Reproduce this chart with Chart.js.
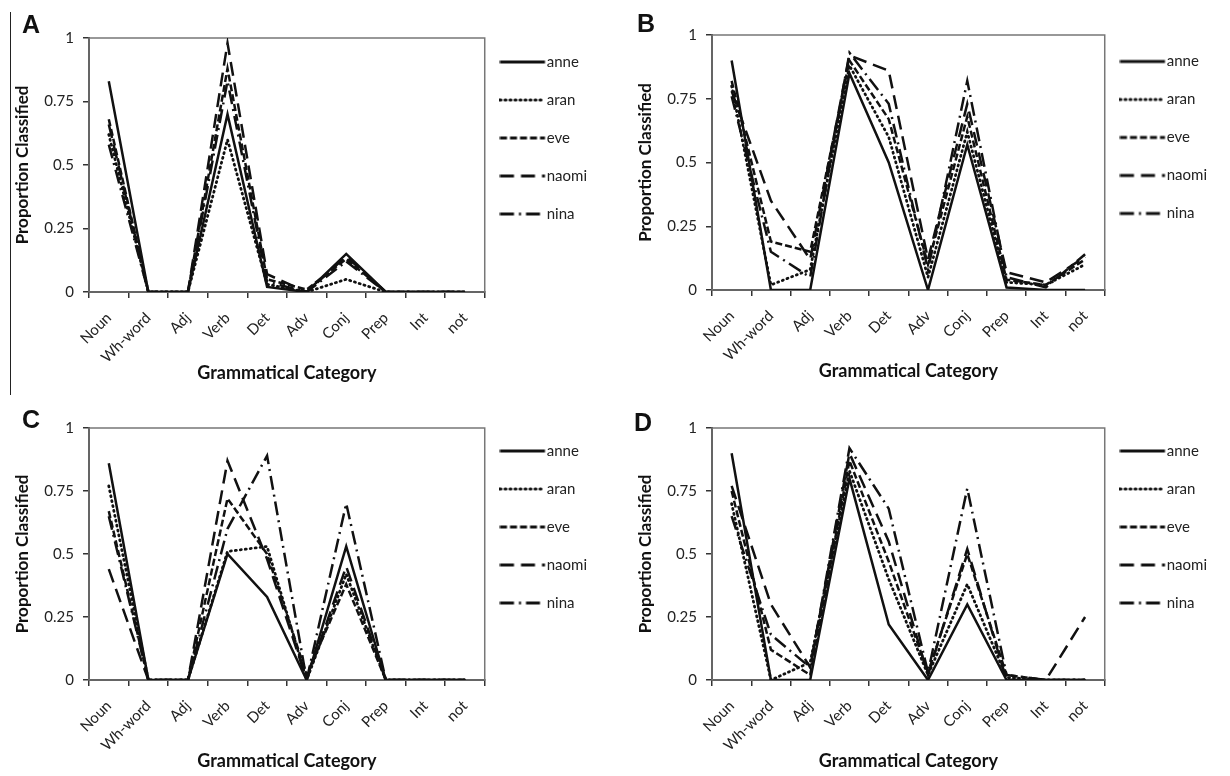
<!DOCTYPE html>
<html>
<head>
<meta charset="utf-8">
<script src="https://cdn.jsdelivr.net/npm/chart.js@4/dist/chart.umd.min.js"></script>
<style>
  body { margin: 0; background: #fff; width: 1230px; height: 776px; position: relative; overflow: hidden; }
  .panel { position: absolute; width: 615px; height: 388px; }
  .letter { position: absolute; font: bold 25px "Liberation Sans", Arial, sans-serif; color: #111; }
  .rule { position: absolute; left: 10px; top: 12px; height: 383px; border-left: 1px solid #222; }
</style>
</head>
<body>
<div class="rule"></div>
<div class="panel" style="left:0;top:0"><canvas id="chartA" width="615" height="388"></canvas></div>
<div class="panel" style="left:615px;top:0"><canvas id="chartB" width="615" height="388"></canvas></div>
<div class="panel" style="left:0;top:388px"><canvas id="chartC" width="615" height="388"></canvas></div>
<div class="panel" style="left:615px;top:388px"><canvas id="chartD" width="615" height="388"></canvas></div>
<div class="letter" style="left:22px;top:10px">A</div>
<div class="letter" style="left:637px;top:9px">B</div>
<div class="letter" style="left:22px;top:405px">C</div>
<div class="letter" style="left:634px;top:408px">D</div>
<script>
// categories and speakers
const categories = ['Noun', 'Wh-word', 'Adj', 'Verb', 'Det', 'Adv', 'Conj', 'Prep', 'Int', 'not'];
const speakers = ['anne', 'aran', 'eve', 'naomi', 'nina'];
const yTicks = [0, 0.25, 0.5, 0.75, 1];

// Panel A
const A_anne  = [0.83, 0, 0, 0.70, 0.02, 0, 0.15, 0, 0, 0];
const A_aran  = [0.62, 0, 0, 0.60, 0.03, 0, 0.05, 0, 0, 0];
const A_eve   = [0.68, 0, 0, 0.88, 0.05, 0.01, 0.13, 0, 0, 0];
const A_naomi = [0.66, 0, 0, 0.98, 0.07, 0, 0.14, 0, 0, 0];
const A_nina  = [0.58, 0, 0, 0.83, 0.04, 0, 0.12, 0, 0, 0];

// Panel B
const B_anne  = [0.90, 0, 0, 0.85, 0.50, 0, 0.57, 0.01, 0, 0];
const B_aran  = [0.80, 0.02, 0.08, 0.88, 0.60, 0.05, 0.62, 0.03, 0.02, 0.10];
const B_eve   = [0.82, 0.19, 0.15, 0.90, 0.67, 0.10, 0.68, 0.04, 0.02, 0.12];
const B_naomi = [0.78, 0.35, 0.12, 0.92, 0.86, 0.12, 0.73, 0.07, 0.03, 0.13];
const B_nina  = [0.76, 0.15, 0.05, 0.93, 0.73, 0.08, 0.82, 0.05, 0.01, 0.14];

// Panel C
const C_anne  = [0.86, 0, 0, 0.50, 0.33, 0, 0.53, 0, 0, 0];
const C_aran  = [0.77, 0, 0, 0.51, 0.53, 0, 0.42, 0, 0, 0];
const C_eve   = [0.67, 0, 0, 0.72, 0.50, 0.02, 0.38, 0, 0, 0];
const C_naomi = [0.44, 0, 0, 0.87, 0.48, 0, 0.45, 0, 0, 0];
const C_nina  = [0.65, 0, 0, 0.60, 0.89, 0, 0.70, 0, 0, 0];

// Panel D
const D_anne  = [0.90, 0, 0, 0.80, 0.22, 0, 0.30, 0, 0, 0];
const D_aran  = [0.70, 0, 0.07, 0.83, 0.40, 0.02, 0.38, 0.01, 0, 0];
const D_eve   = [0.75, 0.12, 0.02, 0.87, 0.47, 0.03, 0.50, 0.02, 0, 0];
const D_naomi = [0.77, 0.30, 0.05, 0.90, 0.55, 0.02, 0.52, 0, 0, 0.25];
const D_nina  = [0.65, 0.18, 0.05, 0.92, 0.68, 0.03, 0.76, 0.02, 0, 0];

const dashes = [[], [1, 4], [7, 3], [14, 7], [14, 5, 2, 5]];
const caps = ['butt', 'round', 'butt', 'butt', 'butt'];

// legend samples: a 45px line drawn into a small canvas used as point style
function sampleLine(dash, cap) {
    const c = document.createElement('canvas');
    c.width = 48;
    c.height = 8;
    const g = c.getContext('2d');
    g.strokeStyle = '#111';
    g.lineWidth = 3;
    g.lineCap = cap;
    g.setLineDash(dash);
    g.beginPath();
    g.moveTo(0.5, 4);
    g.lineTo(45.5, 4);
    g.stroke();
    return c;
}
const samples = dashes.map((d, i) => sampleLine(d, caps[i]));

// frame around the plot area
const framePlugin = {
    id: 'frame',
    beforeDatasetsDraw(chart) {
        const a = chart.chartArea;
        const ctx = chart.ctx;
        ctx.save();
        ctx.strokeStyle = '#777';
        ctx.lineWidth = 1.5;
        ctx.strokeRect(a.left, a.top, a.right - a.left, a.bottom - a.top);
        ctx.restore();
    }
};

function makeChart(id, series, pad, yWidth, topGap) {
    const ctx = document.getElementById(id).getContext('2d');
    new Chart(ctx, {
        type: 'line',
        data: {
            labels: categories,
            datasets: series.map((vals, i) => ({
                label: speakers[i],
                data: vals,
                xAxisID: 'x',
                yAxisID: 'y',
                borderColor: '#111',
                backgroundColor: '#111',
                borderWidth: i === 1 ? 2.8 : 2.5,
                borderDash: dashes[i],
                borderCapStyle: caps[i],
                tension: 0,
                pointRadius: 0,
                fill: false
            }))
        },
        options: {
            responsive: false,
            animation: false,
            layout: { padding: pad },
            plugins: {
                legend: {
                    position: 'right',
                    align: 'start',
                    labels: {
                        usePointStyle: true,
                        pointStyleWidth: 31.5,
                        padding: 23,
                        color: '#222',
                        font: { family: 'Lato', size: 15 },
                        generateLabels(chart) {
                            return chart.data.datasets.map((ds, i) => ({
                                text: ds.label,
                                pointStyle: samples[i],
                                fontColor: '#222',
                                fillStyle: '#111',
                                strokeStyle: '#111',
                                lineWidth: 0,
                                hidden: false,
                                datasetIndex: i
                            }));
                        }
                    }
                },
                tooltip: { enabled: false }
            },
            scales: {
                x: {
                    offset: true,
                    grid: { offset: true, drawOnChartArea: false, tickLength: 6, color: '#333', lineWidth: 1.5 },
                    border: { color: '#333', width: 2 },
                    ticks: { maxRotation: 45, minRotation: 45, color: '#222', font: { family: 'Lato', size: 15 }, padding: 11 },
                    title: { display: true, text: 'Grammatical Category', color: '#111', font: { family: 'Lato', size: 18, weight: 'bold' } },
                    afterFit(s) { s.height = 96; }
                },
                xTop: {
                    type: 'category',
                    position: 'top',
                    grid: { display: false },
                    border: { display: false },
                    ticks: { display: false },
                    afterFit(s) { s.height = topGap; }
                },
                y: {
                    min: 0, max: 1,
                    afterBuildTicks(s) { s.ticks = yTicks.map(v => ({ value: v })); },
                    grid: { drawOnChartArea: false, tickLength: 6, color: '#333', lineWidth: 1.5 },
                    border: { color: '#333', width: 2 },
                    ticks: { color: '#222', font: { family: 'Lato', size: 15 }, padding: 9, callback: v => String(v) },
                    title: { display: true, text: 'Proportion Classified', color: '#111', font: { family: 'Lato', size: 17, weight: 'bold' } },
                    afterFit(s) { s.width = yWidth; }
                }
            }
        },
        plugins: [framePlugin]
    });
}

makeChart('chartA', [A_anne, A_aran, A_eve, A_naomi, A_nina], { left: 8, top: 31.5, right: 18, bottom: 0 }, 81, 6.5);
makeChart('chartB', [B_anne, B_aran, B_eve, B_naomi, B_nina], { left: 16, top: 31, right: 13, bottom: 2 }, 81, 4);
makeChart('chartC', [C_anne, C_aran, C_eve, C_naomi, C_nina], { left: 8, top: 32.5, right: 18, bottom: 0 }, 81, 7.5);
makeChart('chartD', [D_anne, D_aran, D_eve, D_naomi, D_nina], { left: 16, top: 32.5, right: 13, bottom: 0 }, 81, 7.5);
</script>
</body>
</html>
